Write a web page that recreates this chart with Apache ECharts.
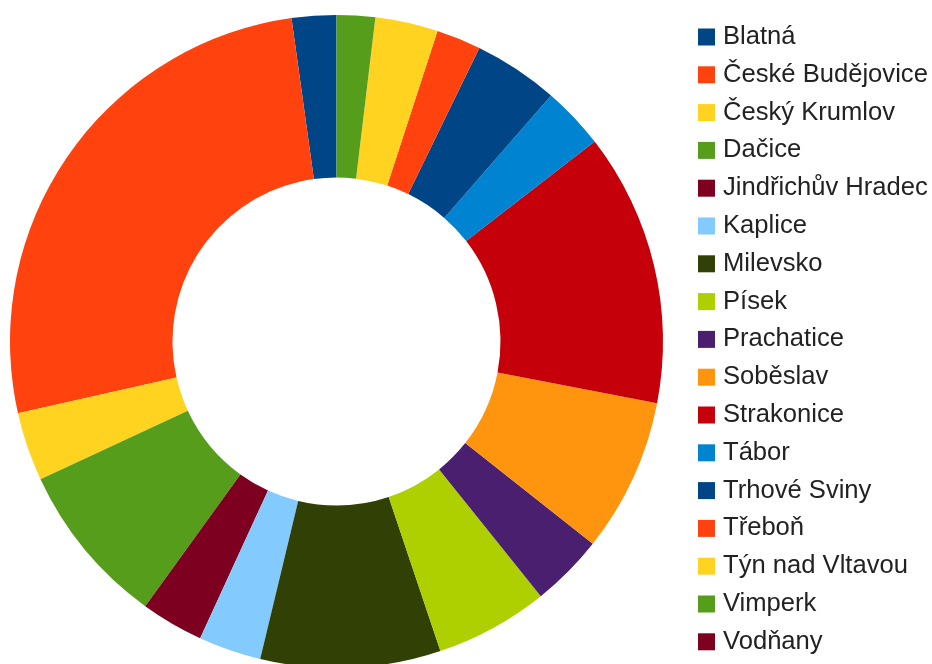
<!DOCTYPE html>
<html>
<head>
<meta charset="utf-8">
<script src="https://cdn.jsdelivr.net/npm/echarts@6/dist/echarts.min.js"></script>
<style>
html,body{margin:0;padding:0;background:#fff;}
#chart{width:932px;height:664px;}
</style>
</head>
<body>
<div id="chart"></div>
<script>
const categories = ["Blatná","České Budějovice","Český Krumlov","Dačice","Jindřichův Hradec","Kaplice","Milevsko","Písek","Prachatice","Soběslav","Strakonice","Tábor","Trhové Sviny","Třeboň","Týn nad Vltavou","Vimperk","Vodňany"];
const values = [2.2, 26.3, 3.4, 8.1, 3.1, 3.1, 8.9, 5.6, 3.6, 7.6, 13.5, 3.1, 4.2, 2.2, 3.1, 1.9, 0];
const colors = ["#004586","#ff420e","#ffd320","#579d1c","#7e0021","#83caff","#314004","#aecf00","#4b1f6f","#ff950e","#c5000b","#0084d1","#004586","#ff420e","#ffd320","#579d1c","#7e0021"];

const chart = echarts.init(document.getElementById('chart'), null, {renderer:'canvas'});
chart.setOption({
  animation: false,
  backgroundColor: '#ffffff',
  color: colors,
  legend: {
    orient: 'vertical',
    left: 698,
    top: 23,
    padding: 0,
    icon: 'rect',
    itemWidth: 17,
    itemHeight: 17,
    itemGap: 9.8,
    selectedMode: false,
    textStyle: {
      fontFamily: 'Liberation Sans',
      fontSize: 25.6,
      lineHeight: 28,
      color: '#222',
      padding: [0,0,0,3]
    },
    data: categories
  },
  series: [{
    type: 'pie',
    center: [336.5, 341.5],
    radius: [164, 326.5],
    startAngle: 90,
    clockwise: false,
    avoidLabelOverlap: false,
    label: {show: false},
    labelLine: {show: false},
    emphasis: {disabled: true},
    itemStyle: {borderWidth: 0},
    data: categories.map((c, i) => ({name: c, value: values[i]}))
  }]
});
</script>
</body>
</html>
